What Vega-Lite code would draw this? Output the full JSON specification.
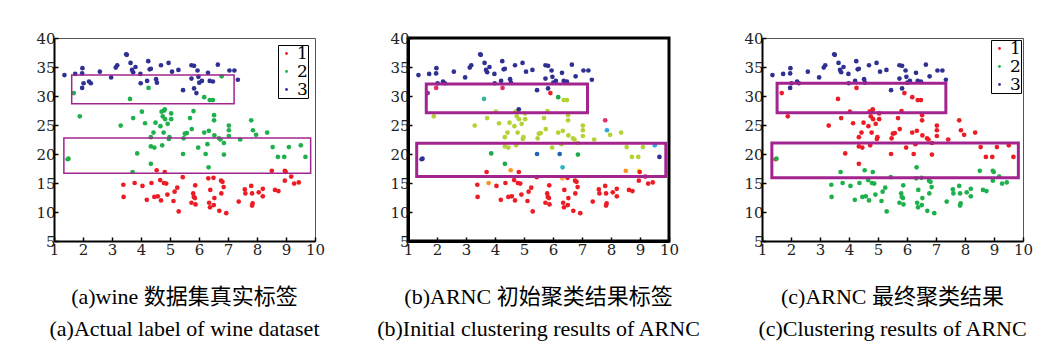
{
  "$schema": "https://vega.github.io/schema/vega-lite/v6.json",
  "padding": {"left": 35, "top": 29, "right": 5, "bottom": 5},
  "background": "white",
  "bounds": "flush",
  "spacing": 93,
  "config": {
    "axis": {"labelFont": "DejaVu Serif", "labelFontSize": 15, "labelColor": "#222", "domainColor": "black", "domainWidth": 2, "tickColor": "black", "tickSize": -4, "tickWidth": 1.5, "grid": false, "title": null, "labelFlush": false, "labelOverlap": false, "tickCount": 12},
    "axisX": {"labelPadding": 5},
    "axisY": {"labelPadding": 3},
    "title": {"orient": "bottom", "anchor": "middle", "font": "Liberation Serif, Noto Sans CJK SC", "fontSize": 22, "fontWeight": "normal", "subtitleFont": "Liberation Serif", "subtitleFontSize": 22, "subtitleColor": "black", "subtitlePadding": 10, "offset": 30, "color": "black"}
  },
  "datasets": {
    "boxes": [
      {"p": "a", "x1": 1.61, "x2": 7.21, "y1": 33.6, "y2": 28.67},
      {"p": "a", "x1": 1.34, "x2": 9.85, "y1": 22.74, "y2": 16.7},
      {"p": "b", "x1": 1.63, "x2": 7.19, "y1": 32.05, "y2": 27.13},
      {"p": "b", "x1": 1.30, "x2": 9.89, "y1": 21.87, "y2": 16.14},
      {"p": "c", "x1": 1.52, "x2": 7.34, "y1": 32.2, "y2": 27.1},
      {"p": "c", "x1": 1.34, "x2": 9.84, "y1": 21.9, "y2": 15.9}
    ],
    "pts": [
      {"x": 1.36, "y": 33.6, "a": "3", "b": "n", "c": "3"},
      {"x": 1.73, "y": 33.8, "a": "3", "b": "n", "c": "3"},
      {"x": 1.97, "y": 33.9, "a": "3", "b": "n", "c": "3"},
      {"x": 1.98, "y": 34.8, "a": "3", "b": "n", "c": "3"},
      {"x": 2.02, "y": 32.2, "a": "3", "b": "n", "c": "3"},
      {"x": 1.97, "y": 31.4, "a": "3", "b": "k", "c": "3"},
      {"x": 2.21, "y": 32.5, "a": "3", "b": "n", "c": "3"},
      {"x": 2.27, "y": 32.2, "a": "3", "b": "n", "c": "3"},
      {"x": 2.58, "y": 34.2, "a": "3", "b": "n", "c": "3"},
      {"x": 2.97, "y": 33.2, "a": "3", "b": "n", "c": "3"},
      {"x": 3.13, "y": 34.9, "a": "3", "b": "n", "c": "3"},
      {"x": 3.18, "y": 35.3, "a": "3", "b": "n", "c": "3"},
      {"x": 3.49, "y": 37.2, "a": "3", "b": "n", "c": "3"},
      {"x": 3.51, "y": 37.1, "a": "3", "b": "n", "c": "3"},
      {"x": 3.64, "y": 35.7, "a": "3", "b": "n", "c": "3"},
      {"x": 3.69, "y": 34.5, "a": "3", "b": "n", "c": "3"},
      {"x": 3.73, "y": 34.1, "a": "3", "b": "n", "c": "3"},
      {"x": 3.81, "y": 35.0, "a": "3", "b": "n", "c": "3"},
      {"x": 3.98, "y": 33.8, "a": "3", "b": "n", "c": "3"},
      {"x": 3.99, "y": 32.2, "a": "3", "b": "n", "c": "3"},
      {"x": 4.21, "y": 32.6, "a": "3", "b": "n", "c": "3"},
      {"x": 4.25, "y": 36.0, "a": "3", "b": "n", "c": "3"},
      {"x": 4.30, "y": 34.6, "a": "3", "b": "n", "c": "3"},
      {"x": 4.34, "y": 34.7, "a": "3", "b": "n", "c": "3"},
      {"x": 4.52, "y": 32.9, "a": "3", "b": "n", "c": "3"},
      {"x": 4.55, "y": 32.3, "a": "3", "b": "n", "c": "3"},
      {"x": 4.69, "y": 35.3, "a": "3", "b": "n", "c": "3"},
      {"x": 4.95, "y": 35.7, "a": "3", "b": "n", "c": "3"},
      {"x": 5.07, "y": 34.2, "a": "3", "b": "n", "c": "3"},
      {"x": 5.29, "y": 34.5, "a": "3", "b": "n", "c": "3"},
      {"x": 5.45, "y": 31.0, "a": "3", "b": "n", "c": "3"},
      {"x": 5.74, "y": 35.3, "a": "3", "b": "n", "c": "3"},
      {"x": 5.83, "y": 35.2, "a": "3", "b": "n", "c": "3"},
      {"x": 5.74, "y": 33.0, "a": "3", "b": "n", "c": "3"},
      {"x": 5.95, "y": 34.4, "a": "3", "b": "n", "c": "3"},
      {"x": 5.83, "y": 31.3, "a": "3", "b": "n", "c": "3"},
      {"x": 5.91, "y": 30.5, "a": "3", "b": "r", "c": "1"},
      {"x": 5.98, "y": 33.3, "a": "3", "b": "n", "c": "3"},
      {"x": 6.01, "y": 32.3, "a": "3", "b": "n", "c": "3"},
      {"x": 6.10, "y": 32.6, "a": "3", "b": "n", "c": "3"},
      {"x": 6.31, "y": 34.0, "a": "3", "b": "n", "c": "3"},
      {"x": 6.37, "y": 32.6, "a": "3", "b": "n", "c": "3"},
      {"x": 6.48, "y": 32.5, "a": "3", "b": "n", "c": "3"},
      {"x": 6.65, "y": 35.4, "a": "3", "b": "n", "c": "3"},
      {"x": 7.05, "y": 34.4, "a": "3", "b": "n", "c": "3"},
      {"x": 7.22, "y": 34.4, "a": "3", "b": "n", "c": "3"},
      {"x": 7.34, "y": 32.8, "a": "3", "b": "n", "c": "3"},
      {"x": 1.68, "y": 30.5, "a": "2", "b": "p", "c": "1"},
      {"x": 1.89, "y": 26.5, "a": "2", "b": "g", "c": "1"},
      {"x": 1.47, "y": 19.1, "a": "2", "b": "n", "c": "1"},
      {"x": 1.50, "y": 19.2, "a": "2", "b": "n", "c": "2"},
      {"x": 3.30, "y": 24.9, "a": "2", "b": "g", "c": "1"},
      {"x": 3.62, "y": 29.5, "a": "2", "b": "t", "c": "1"},
      {"x": 3.71, "y": 16.9, "a": "2", "b": "r", "c": "2"},
      {"x": 3.73, "y": 26.2, "a": "2", "b": "g", "c": "1"},
      {"x": 3.87, "y": 20.1, "a": "2", "b": "G", "c": "1"},
      {"x": 4.03, "y": 27.3, "a": "2", "b": "g", "c": "1"},
      {"x": 4.14, "y": 25.3, "a": "2", "b": "g", "c": "1"},
      {"x": 4.26, "y": 31.4, "a": "2", "b": "k", "c": "1"},
      {"x": 4.34, "y": 22.9, "a": "2", "b": "g", "c": "1"},
      {"x": 4.34, "y": 21.3, "a": "2", "b": "g", "c": "1"},
      {"x": 4.34, "y": 18.3, "a": "2", "b": "G", "c": "1"},
      {"x": 4.43, "y": 23.7, "a": "2", "b": "g", "c": "1"},
      {"x": 4.46, "y": 21.1, "a": "2", "b": "g", "c": "1"},
      {"x": 4.50, "y": 25.4, "a": "2", "b": "g", "c": "1"},
      {"x": 4.67, "y": 24.8, "a": "2", "b": "g", "c": "1"},
      {"x": 4.71, "y": 27.3, "a": "2", "b": "g", "c": "1"},
      {"x": 4.75, "y": 26.5, "a": "2", "b": "g", "c": "1"},
      {"x": 4.80, "y": 27.5, "a": "2", "b": "g", "c": "1"},
      {"x": 4.82, "y": 27.7, "a": "2", "b": "n", "c": "1"},
      {"x": 4.78, "y": 23.7, "a": "2", "b": "g", "c": "1"},
      {"x": 4.73, "y": 21.5, "a": "2", "b": "g", "c": "1"},
      {"x": 4.83, "y": 26.0, "a": "2", "b": "g", "c": "1"},
      {"x": 4.92, "y": 25.2, "a": "2", "b": "g", "c": "1"},
      {"x": 4.98, "y": 22.9, "a": "2", "b": "g", "c": "1"},
      {"x": 4.96, "y": 22.6, "a": "2", "b": "g", "c": "1"},
      {"x": 5.04, "y": 27.0, "a": "2", "b": "g", "c": "1"},
      {"x": 5.04, "y": 26.0, "a": "2", "b": "g", "c": "1"},
      {"x": 5.45, "y": 20.0, "a": "2", "b": "B", "c": "1"},
      {"x": 5.47, "y": 22.7, "a": "2", "b": "g", "c": "1"},
      {"x": 5.51, "y": 23.5, "a": "2", "b": "g", "c": "1"},
      {"x": 5.58, "y": 23.6, "a": "2", "b": "g", "c": "1"},
      {"x": 5.69, "y": 26.2, "a": "2", "b": "g", "c": "1"},
      {"x": 5.75, "y": 24.3, "a": "2", "b": "g", "c": "1"},
      {"x": 5.81, "y": 27.4, "a": "2", "b": "g", "c": "1"},
      {"x": 5.97, "y": 21.1, "a": "2", "b": "g", "c": "1"},
      {"x": 6.18, "y": 29.8, "a": "2", "b": "G", "c": "1"},
      {"x": 6.18, "y": 23.7, "a": "2", "b": "g", "c": "1"},
      {"x": 6.23, "y": 20.0, "a": "2", "b": "B", "c": "1"},
      {"x": 6.29, "y": 21.7, "a": "2", "b": "g", "c": "1"},
      {"x": 6.34, "y": 24.0, "a": "2", "b": "g", "c": "1"},
      {"x": 6.33, "y": 17.7, "a": "2", "b": "q", "c": "2"},
      {"x": 6.37, "y": 29.3, "a": "2", "b": "g", "c": "1"},
      {"x": 6.48, "y": 29.3, "a": "2", "b": "g", "c": "1"},
      {"x": 6.52, "y": 26.7, "a": "2", "b": "g", "c": "1"},
      {"x": 6.52, "y": 25.8, "a": "2", "b": "g", "c": "1"},
      {"x": 6.53, "y": 23.2, "a": "2", "b": "g", "c": "1"},
      {"x": 6.69, "y": 22.7, "a": "2", "b": "g", "c": "1"},
      {"x": 6.74, "y": 22.5, "a": "2", "b": "g", "c": "1"},
      {"x": 6.86, "y": 21.9, "a": "2", "b": "g", "c": "1"},
      {"x": 6.86, "y": 19.9, "a": "2", "b": "G", "c": "1"},
      {"x": 6.78, "y": 33.4, "a": "2", "b": "n", "c": "3"},
      {"x": 7.03, "y": 24.9, "a": "2", "b": "g", "c": "1"},
      {"x": 7.03, "y": 24.1, "a": "2", "b": "g", "c": "1"},
      {"x": 7.03, "y": 23.1, "a": "2", "b": "g", "c": "1"},
      {"x": 7.42, "y": 22.5, "a": "2", "b": "g", "c": "1"},
      {"x": 7.80, "y": 25.8, "a": "2", "b": "k", "c": "1"},
      {"x": 7.86, "y": 24.1, "a": "2", "b": "c", "c": "1"},
      {"x": 7.97, "y": 23.3, "a": "2", "b": "g", "c": "1"},
      {"x": 8.35, "y": 23.7, "a": "2", "b": "g", "c": "1"},
      {"x": 8.54, "y": 21.2, "a": "2", "b": "g", "c": "1"},
      {"x": 8.72, "y": 19.5, "a": "2", "b": "g", "c": "1"},
      {"x": 8.94, "y": 19.5, "a": "2", "b": "g", "c": "1"},
      {"x": 9.10, "y": 21.2, "a": "2", "b": "g", "c": "1"},
      {"x": 9.51, "y": 21.5, "a": "2", "b": "c", "c": "1"},
      {"x": 9.67, "y": 19.5, "a": "2", "b": "n", "c": "1"},
      {"x": 3.39, "y": 14.7, "a": "1", "b": "r", "c": "2"},
      {"x": 3.40, "y": 12.6, "a": "1", "b": "r", "c": "2"},
      {"x": 3.78, "y": 15.0, "a": "1", "b": "o", "c": "2"},
      {"x": 4.05, "y": 14.5, "a": "1", "b": "r", "c": "2"},
      {"x": 4.20, "y": 12.1, "a": "1", "b": "r", "c": "2"},
      {"x": 4.36, "y": 15.0, "a": "1", "b": "r", "c": "2"},
      {"x": 4.46, "y": 12.6, "a": "1", "b": "r", "c": "2"},
      {"x": 4.54, "y": 17.2, "a": "1", "b": "o", "c": "2"},
      {"x": 4.58, "y": 12.7, "a": "1", "b": "r", "c": "2"},
      {"x": 4.66, "y": 15.5, "a": "1", "b": "r", "c": "2"},
      {"x": 4.69, "y": 12.0, "a": "1", "b": "r", "c": "2"},
      {"x": 4.79, "y": 15.0, "a": "1", "b": "r", "c": "2"},
      {"x": 4.82, "y": 16.9, "a": "1", "b": "r", "c": "2"},
      {"x": 4.87, "y": 14.9, "a": "1", "b": "r", "c": "2"},
      {"x": 4.91, "y": 13.0, "a": "1", "b": "r", "c": "2"},
      {"x": 5.12, "y": 11.9, "a": "1", "b": "r", "c": "2"},
      {"x": 5.16, "y": 13.5, "a": "1", "b": "r", "c": "2"},
      {"x": 5.25, "y": 14.2, "a": "1", "b": "r", "c": "2"},
      {"x": 5.30, "y": 10.1, "a": "1", "b": "r", "c": "2"},
      {"x": 5.44, "y": 16.0, "a": "1", "b": "r", "c": "2"},
      {"x": 5.74, "y": 11.6, "a": "1", "b": "r", "c": "2"},
      {"x": 5.80, "y": 13.2, "a": "1", "b": "r", "c": "2"},
      {"x": 5.82, "y": 12.6, "a": "1", "b": "r", "c": "2"},
      {"x": 5.86, "y": 12.4, "a": "1", "b": "r", "c": "2"},
      {"x": 5.87, "y": 14.6, "a": "1", "b": "r", "c": "2"},
      {"x": 5.88, "y": 11.3, "a": "1", "b": "r", "c": "2"},
      {"x": 6.32, "y": 15.8, "a": "1", "b": "d", "c": "2"},
      {"x": 6.39, "y": 13.8, "a": "1", "b": "r", "c": "2"},
      {"x": 6.35, "y": 11.6, "a": "1", "b": "r", "c": "2"},
      {"x": 6.38, "y": 10.8, "a": "1", "b": "r", "c": "2"},
      {"x": 6.50, "y": 15.9, "a": "1", "b": "r", "c": "2"},
      {"x": 6.53, "y": 12.4, "a": "1", "b": "r", "c": "2"},
      {"x": 6.51, "y": 11.2, "a": "1", "b": "r", "c": "2"},
      {"x": 6.70, "y": 10.2, "a": "1", "b": "r", "c": "2"},
      {"x": 6.76, "y": 15.4, "a": "1", "b": "r", "c": "2"},
      {"x": 6.81, "y": 15.2, "a": "1", "b": "r", "c": "2"},
      {"x": 6.77, "y": 13.2, "a": "1", "b": "r", "c": "2"},
      {"x": 6.85, "y": 14.3, "a": "1", "b": "r", "c": "2"},
      {"x": 6.94, "y": 9.8, "a": "1", "b": "r", "c": "2"},
      {"x": 7.37, "y": 11.8, "a": "1", "b": "r", "c": "2"},
      {"x": 7.58, "y": 13.9, "a": "1", "b": "r", "c": "2"},
      {"x": 7.60, "y": 13.2, "a": "1", "b": "r", "c": "2"},
      {"x": 7.80, "y": 14.5, "a": "1", "b": "r", "c": "2"},
      {"x": 7.83, "y": 13.2, "a": "1", "b": "r", "c": "2"},
      {"x": 7.85, "y": 11.5, "a": "1", "b": "r", "c": "2"},
      {"x": 7.83, "y": 11.1, "a": "1", "b": "r", "c": "2"},
      {"x": 8.06, "y": 13.4, "a": "1", "b": "r", "c": "2"},
      {"x": 8.20, "y": 14.0, "a": "1", "b": "r", "c": "2"},
      {"x": 8.20, "y": 12.7, "a": "1", "b": "r", "c": "2"},
      {"x": 8.51, "y": 17.1, "a": "1", "b": "o", "c": "2"},
      {"x": 8.62, "y": 13.8, "a": "1", "b": "r", "c": "2"},
      {"x": 8.74, "y": 13.6, "a": "1", "b": "r", "c": "2"},
      {"x": 8.96, "y": 17.1, "a": "1", "b": "y", "c": "2"},
      {"x": 8.99, "y": 16.9, "a": "1", "b": "r", "c": "2"},
      {"x": 8.96, "y": 15.4, "a": "1", "b": "r", "c": "2"},
      {"x": 9.18, "y": 16.1, "a": "1", "b": "r", "c": "2"},
      {"x": 9.28, "y": 14.9, "a": "1", "b": "r", "c": "2"},
      {"x": 9.44, "y": 15.1, "a": "1", "b": "r", "c": "2"}
    ]
  },
  "hconcat": [
    {
      "width": 261, "height": 203,
      "view": {"stroke": "#555", "strokeWidth": 1},
      "title": {"text": "(a)wine 数据集真实标签", "subtitle": "(a)Actual label of wine dataset"},
      "layer": [
        {
          "data": {"name": "pts"},
          "mark": {"type": "circle", "size": 22, "opacity": 1},
          "encoding": {
            "x": {"field": "x", "type": "quantitative", "scale": {"domain": [1, 10], "nice": false, "zero": false}, "axis": {"values": [1, 2, 3, 4, 5, 6, 7, 8, 9, 10], "tickCount": 12}},
            "y": {"field": "y", "type": "quantitative", "scale": {"domain": [5, 40], "nice": false, "zero": false}, "axis": {"values": [5, 10, 15, 20, 25, 30, 35, 40], "tickCount": 12}},
            "color": {"field": "a", "type": "nominal", "scale": {"domain": ["1", "2", "3"], "range": ["#ed1c24", "#1db04b", "#2e3192"]},
              "legend": {"title": null, "orient": "top-right", "offset": 7, "strokeColor": "black", "padding": 0, "symbolType": "circle", "symbolSize": 8, "labelFont": "DejaVu Serif", "labelFontSize": 17, "rowPadding": 0, "labelOffset": 2,
                "encode": {"legend": {"update": {"strokeWidth": {"value": 3}}}}}}
          }
        },
        {
          "data": {"name": "boxes"},
          "transform": [{"filter": "datum.p == 'a'"}],
          "mark": {"type": "rect", "fillOpacity": 0, "stroke": "#a2248e", "strokeWidth": 1.5},
          "encoding": {
            "x": {"field": "x1", "type": "quantitative"}, "x2": {"field": "x2"},
            "y": {"field": "y1", "type": "quantitative"}, "y2": {"field": "y2"}
          }
        }
      ]
    },
    {
      "width": 261, "height": 203,
      "view": {"stroke": "black", "strokeWidth": 3},
      "title": {"text": "(b)ARNC 初始聚类结果标签", "subtitle": "(b)Initial clustering results of ARNC"},
      "layer": [
        {
          "data": {"name": "pts"},
          "mark": {"type": "circle", "size": 22, "opacity": 1},
          "encoding": {
            "x": {"field": "x", "type": "quantitative", "scale": {"domain": [1, 10], "nice": false, "zero": false}, "axis": {"values": [1, 2, 3, 4, 5, 6, 7, 8, 9, 10], "domainWidth": 3, "tickCount": 12}},
            "y": {"field": "y", "type": "quantitative", "scale": {"domain": [5, 40], "nice": false, "zero": false}, "axis": {"values": [5, 10, 15, 20, 25, 30, 35, 40], "domainWidth": 3, "tickCount": 12}},
            "color": {"field": "b", "type": "nominal", "legend": null, "scale": {"domain": ["r", "g", "n", "p", "k", "t", "G", "B", "c", "q", "o", "d", "y"], "range": ["#ed1c24", "#b3d334", "#2e3192", "#8e3a96", "#e62e6b", "#3ab89a", "#1da84a", "#1f64b0", "#29abe2", "#27b8bb", "#f7941d", "#fbb03b", "#f9e51a"]}}
          }
        },
        {
          "data": {"name": "boxes"},
          "transform": [{"filter": "datum.p == 'b'"}],
          "mark": {"type": "rect", "fillOpacity": 0, "stroke": "#a2248e", "strokeWidth": 3},
          "encoding": {
            "x": {"field": "x1", "type": "quantitative"}, "x2": {"field": "x2"},
            "y": {"field": "y1", "type": "quantitative"}, "y2": {"field": "y2"}
          }
        }
      ]
    },
    {
      "width": 261, "height": 203,
      "view": {"stroke": "#555", "strokeWidth": 1},
      "title": {"text": "(c)ARNC 最终聚类结果", "subtitle": "(c)Clustering results of ARNC"},
      "layer": [
        {
          "data": {"name": "pts"},
          "mark": {"type": "circle", "size": 22, "opacity": 1},
          "encoding": {
            "x": {"field": "x", "type": "quantitative", "scale": {"domain": [1, 10], "nice": false, "zero": false}, "axis": {"values": [1, 2, 3, 4, 5, 6, 7, 8, 9, 10], "tickCount": 12}},
            "y": {"field": "y", "type": "quantitative", "scale": {"domain": [5, 40], "nice": false, "zero": false}, "axis": {"values": [5, 10, 15, 20, 25, 30, 35, 40], "tickCount": 12}},
            "color": {"field": "c", "type": "nominal", "scale": {"domain": ["1", "2", "3"], "range": ["#ed1c24", "#1db04b", "#2e3192"]},
              "legend": {"title": null, "orient": "top-right", "offset": 2, "strokeColor": "black", "padding": 0, "symbolType": "circle", "symbolSize": 8, "labelFont": "DejaVu Serif", "labelFontSize": 17, "rowPadding": 0, "labelOffset": 2,
                "encode": {"legend": {"update": {"strokeWidth": {"value": 3}}}}}}
          }
        },
        {
          "data": {"name": "boxes"},
          "transform": [{"filter": "datum.p == 'c'"}],
          "mark": {"type": "rect", "fillOpacity": 0, "stroke": "#a2248e", "strokeWidth": 3},
          "encoding": {
            "x": {"field": "x1", "type": "quantitative"}, "x2": {"field": "x2"},
            "y": {"field": "y1", "type": "quantitative"}, "y2": {"field": "y2"}
          }
        }
      ]
    }
  ],
  "resolve": {"scale": {"color": "independent", "x": "independent", "y": "independent"}, "legend": {"color": "independent"}}
}
